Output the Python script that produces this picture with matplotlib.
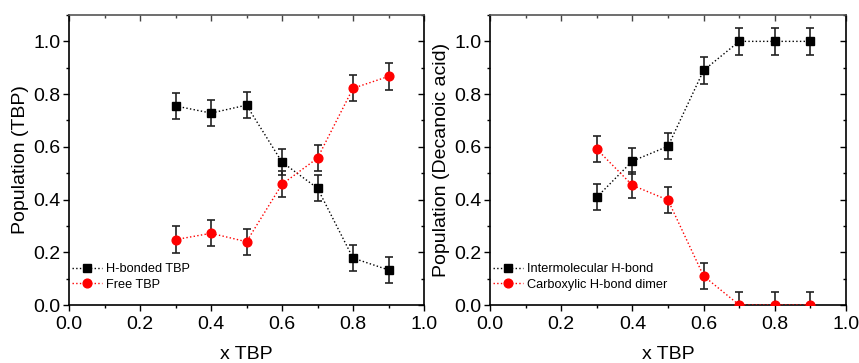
import matplotlib
matplotlib.use("Agg")
import matplotlib.pyplot as plt
from matplotlib.ticker import MultipleLocator, FormatStrFormatter, NullFormatter
from matplotlib.lines import Line2D

plt.rcParams['font.family'] = ['Liberation Sans', 'DejaVu Sans']

x_tbp = [0.3, 0.4, 0.5, 0.6, 0.7, 0.8, 0.9]
hbonded_tbp = [0.755, 0.728, 0.758, 0.542, 0.443, 0.178, 0.133]
free_tbp = [0.248, 0.272, 0.240, 0.458, 0.557, 0.822, 0.867]
intermolecular = [0.409, 0.546, 0.602, 0.890, 1.0, 1.0, 1.0]
carboxylic = [0.591, 0.454, 0.398, 0.110, 0.0, 0.0, 0.0]
err = 0.05

fig = plt.figure(figsize=(8.59, 3.63), dpi=100)
W, H = 859, 363
ax1 = fig.add_axes([69 / W, 1 - 305 / H, (424 - 69) / W, (305 - 15) / H])
ax2 = fig.add_axes([490 / W, 1 - 305 / H, (846 - 490) / W, (305 - 15) / H])


def set_locators(axis):
    axis.set_major_locator(MultipleLocator(0.2))
    axis.set_minor_locator(MultipleLocator(0.1))


def draw(ax, s1, s2, l1, l2, ylabel):
    ax.errorbar(x_tbp, s1, yerr=err, fmt='s', color='black', ms=5.8, ls=':', lw=1,
                ecolor='#222222', elinewidth=1.2, capsize=3, capthick=1.2, zorder=3)
    ax.errorbar(x_tbp, s2, yerr=err, fmt='o', color='red', ms=6.3, ls=':', lw=1,
                ecolor='#222222', elinewidth=1.2, capsize=3, capthick=1.2, zorder=3)
    ax.set_xlim(0, 1.0)
    ax.set_ylim(0, 1.1)
    set_locators(ax.xaxis)
    set_locators(ax.yaxis)
    ax.tick_params(which='both', direction='out', labelsize=14, width=1, colors='black')
    ax.tick_params(which='major', length=4)
    ax.tick_params(which='minor', length=2.5)
    ax.tick_params(axis='x', pad=4)
    ax.tick_params(axis='y', pad=2)
    for sp in ax.spines.values():
        sp.set_linewidth(1.2)
    ax.spines['top'].set_color('#555555')
    ax.set_xlabel('x TBP', fontsize=14, labelpad=9)
    ax.set_ylabel(ylabel, fontsize=14, labelpad=3)
    ax.yaxis.set_major_formatter(FormatStrFormatter('%.1f'))
    ax.xaxis.set_major_formatter(FormatStrFormatter('%.1f'))

    top = ax.secondary_xaxis('top')
    set_locators(top.xaxis)
    top.xaxis.set_major_formatter(NullFormatter())
    top.tick_params(which='both', direction='in', width=1, colors='#444444')
    top.tick_params(which='major', length=4)
    top.tick_params(which='minor', length=2.5)
    top.spines['top'].set_visible(False)
    right = ax.secondary_yaxis('right')
    set_locators(right.yaxis)
    right.yaxis.set_major_formatter(NullFormatter())
    right.tick_params(which='both', direction='in', width=1)
    right.tick_params(which='major', length=4)
    right.tick_params(which='minor', length=2.5)
    right.spines['right'].set_visible(False)

    handles = [
        Line2D([], [], color='black', ls=':', lw=1, marker='s', ms=5.8),
        Line2D([], [], color='red', ls=':', lw=1, marker='o', ms=6.3),
    ]
    ax.legend(handles, [l1, l2], loc='lower left', fontsize=9.2, frameon=False,
              handlelength=2.4, handletextpad=0.3, borderaxespad=0.0,
              labelspacing=0.3, borderpad=0.2, bbox_to_anchor=(0.0, 0.04))


draw(ax1, hbonded_tbp, free_tbp, 'H-bonded TBP', 'Free TBP', 'Population (TBP)')
draw(ax2, intermolecular, carboxylic, 'Intermolecular H-bond', 'Carboxylic H-bond dimer',
     'Population (Decanoic acid)')

fig.savefig('out.png', dpi=100)
